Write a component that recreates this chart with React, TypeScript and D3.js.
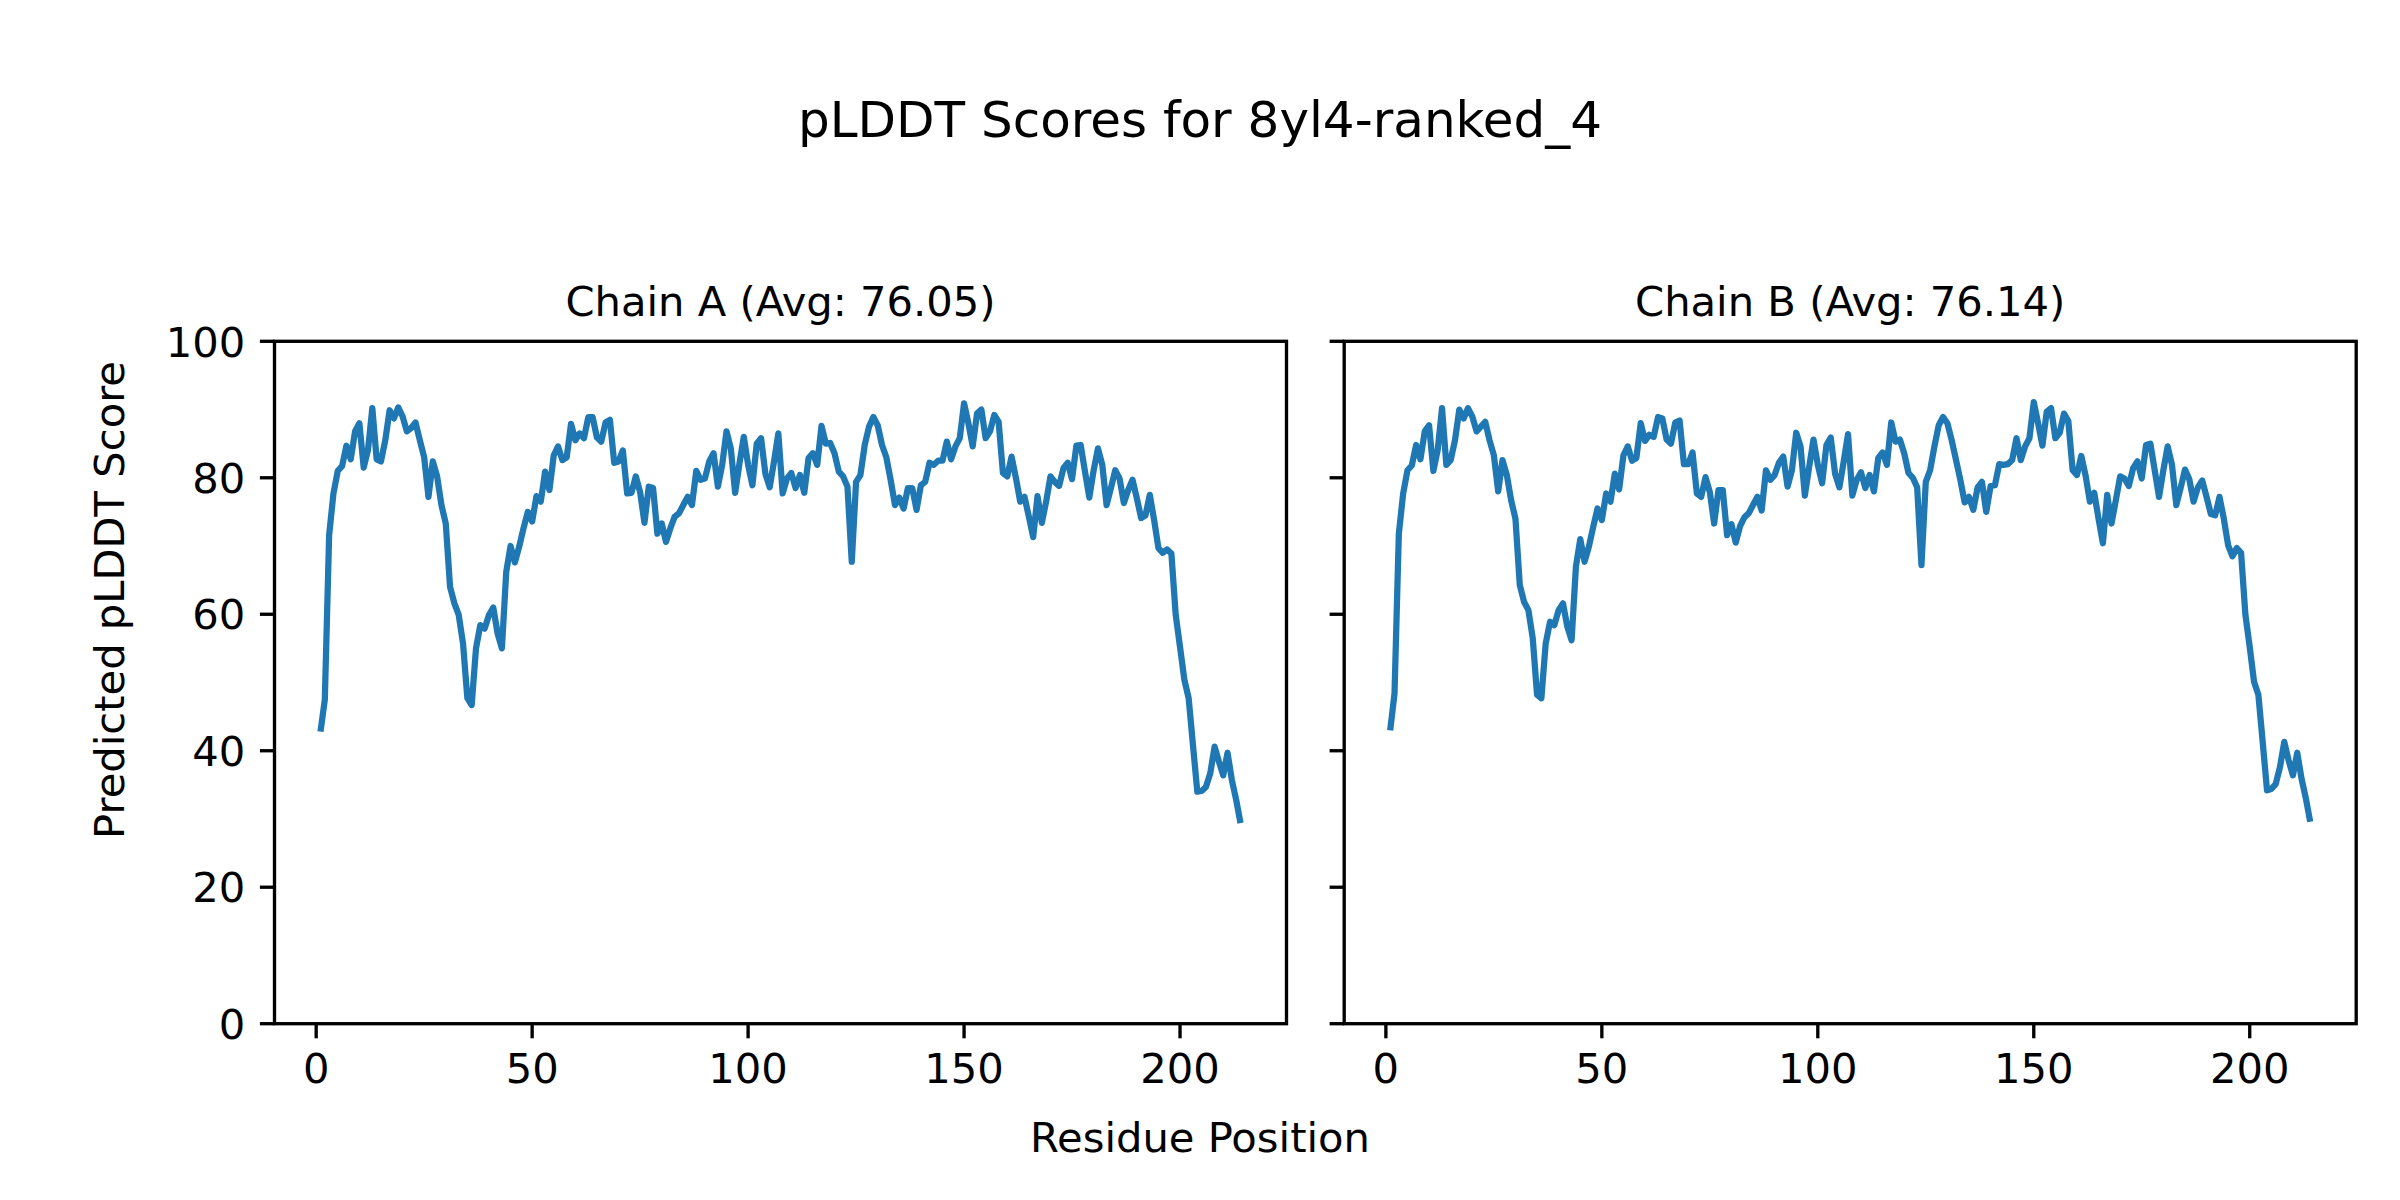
import React, { useEffect } from "react";
import * as d3 from "d3";

const chainA: number[] = [
  42.8, 47.5, 71.6, 77.7, 81.0, 81.7, 84.7, 82.7, 86.8, 88.0,
  81.5, 84.1, 90.2, 82.7, 82.4, 85.5, 89.9, 88.7, 90.3, 89.0,
  86.8, 87.3, 88.1, 85.5, 83.0, 77.2, 82.4, 80.2, 76.0, 73.3,
  64.0, 61.6, 59.9, 55.7, 47.7, 46.7, 55.0, 58.4, 57.9, 59.9,
  61.0, 57.2, 55.0, 66.2, 70.0, 67.6, 69.9, 72.6, 75.0, 73.6,
  77.3, 76.5, 80.9, 78.2, 83.3, 84.6, 82.6, 83.0, 87.9, 85.5,
  86.5, 85.8, 88.9, 88.9, 85.9, 85.3, 88.1, 88.5, 82.2, 82.4,
  84.0, 77.7, 77.8, 80.2, 77.9, 73.4, 78.7, 78.5, 71.8, 73.3,
  70.6, 72.6, 74.3, 74.8, 76.0, 77.2, 76.0, 81.0, 79.7, 79.9,
  82.4, 83.6, 78.7, 81.9, 86.8, 84.3, 77.8, 82.1, 86.0, 81.9,
  78.9, 85.0, 85.8, 80.6, 78.6, 82.4, 86.5, 77.7, 79.9, 80.7,
  78.5, 80.4, 77.8, 82.9, 83.6, 81.9, 87.6, 85.0, 85.1, 83.6,
  80.9, 80.2, 78.7, 67.7, 79.4, 80.4, 84.8, 87.5, 88.9, 87.7,
  84.8, 83.0, 79.7, 76.0, 77.1, 75.5, 78.5, 78.5, 75.3, 78.9,
  79.4, 82.2, 81.9, 82.5, 82.5, 85.3, 82.7, 84.6, 85.8, 90.9,
  88.0, 84.6, 89.4, 90.0, 85.8, 86.8, 89.2, 88.2, 80.7, 80.2,
  83.1, 80.0, 76.5, 77.2, 74.3, 71.3, 77.3, 73.4, 76.5, 80.2,
  79.4, 78.8, 81.4, 82.2, 79.8, 84.7, 84.8, 80.9, 77.1, 81.1,
  84.3, 81.9, 76.0, 78.5, 81.1, 79.9, 76.3, 78.2, 79.7, 77.0,
  74.1, 74.5, 77.5, 73.8, 69.7, 69.0, 69.5, 68.9, 59.9, 55.2,
  50.4, 47.7, 40.8, 34.0, 34.1, 34.7, 36.7, 40.6, 38.4, 36.4,
  39.7, 35.7, 32.8, 29.4,
];

const chainB: number[] = [
  43.0, 48.4, 71.8, 77.7, 81.1, 81.8, 84.8, 82.7, 86.8, 87.7,
  81.0, 84.1, 90.2, 81.9, 82.6, 85.5, 90.0, 88.7, 90.2, 89.0,
  86.8, 87.5, 88.2, 85.5, 83.3, 78.0, 82.6, 80.4, 76.7, 74.0,
  64.3, 61.8, 60.6, 56.5, 48.2, 47.7, 55.7, 58.9, 58.4, 60.6,
  61.6, 58.2, 56.2, 67.0, 71.0, 67.7, 69.9, 72.8, 75.5, 73.8,
  77.7, 76.5, 80.6, 78.3, 83.3, 84.6, 82.5, 82.9, 88.0, 85.4,
  86.3, 86.0, 88.9, 88.7, 85.6, 85.0, 88.1, 88.4, 82.0, 82.0,
  83.7, 77.7, 77.2, 80.1, 77.9, 73.3, 78.2, 78.2, 71.6, 73.2,
  70.5, 72.9, 74.2, 74.8, 76.0, 77.2, 75.2, 81.1, 79.7, 80.4,
  82.2, 83.1, 78.7, 81.1, 86.6, 84.6, 77.4, 81.6, 85.6, 81.9,
  79.2, 84.8, 85.9, 80.6, 78.6, 82.4, 86.4, 77.4, 79.7, 80.8,
  78.5, 80.4, 78.0, 82.9, 83.7, 81.9, 88.1, 85.3, 85.6, 83.6,
  80.7, 80.0, 78.6, 67.2, 79.4, 81.1, 84.6, 87.7, 88.9, 88.0,
  85.5, 82.6, 79.7, 76.4, 77.2, 75.3, 78.6, 79.4, 75.0, 78.8,
  78.9, 82.0, 81.9, 82.0, 82.6, 85.8, 82.6, 84.6, 85.8, 91.1,
  88.0, 84.7, 89.7, 90.2, 85.8, 86.6, 89.4, 88.3, 81.1, 80.4,
  83.2, 80.3, 76.5, 77.8, 74.0, 70.4, 77.5, 73.3, 76.7, 80.2,
  79.9, 78.8, 81.4, 82.4, 79.9, 84.8, 85.0, 81.1, 77.2, 81.1,
  84.6, 81.9, 76.0, 78.5, 81.2, 79.8, 76.5, 78.6, 79.6, 77.2,
  74.7, 74.5, 77.2, 74.0, 70.1, 68.5, 69.7, 69.0, 59.9, 55.2,
  50.1, 48.2, 41.3, 34.2, 34.4, 35.1, 37.6, 41.3, 38.6, 36.4,
  39.7, 35.9, 33.0, 29.6,
];

const panelTitles: string[] = ["Chain A (Avg: 76.05)", "Chain B (Avg: 76.14)"];
const xTicks: number[] = [0, 50, 100, 150, 200];
const yTicks: number[] = [0, 20, 40, 60, 80, 100];
const figTitle = "pLDDT Scores for 8yl4-ranked_4";
const xLabel = "Residue Position";
const yLabel = "Predicted pLDDT Score";

const W = 2400;
const H = 1200;
const FONT = "'DejaVu Sans', sans-serif";
const FS = 41.67;
const TOP = 341.3;
const BOTTOM = 1023.7;
const panels = [
  { left: 274.5, right: 1286.5, data: chainA, title: panelTitles[0], showYLabels: true },
  { left: 1344.2, right: 2356.2, data: chainB, title: panelTitles[1], showYLabels: false },
];

function Panel({ p }: { p: typeof panels[number] }) {
  const n = p.data.length;
  const pad = (n - 1) * 0.05;
  const x = d3.scaleLinear().domain([1 - pad, n + pad]).range([p.left, p.right]);
  const y = d3.scaleLinear().domain([0, 100]).range([BOTTOM, TOP]);
  const line = d3
    .line<number>()
    .x((_, i) => x(i + 1))
    .y((d) => y(d));
  const tickLen = 14.6;
  const sw = 3.33;
  return (
    <g>
      <path d={line(p.data) || ""} fill="none" stroke="#1f77b4" strokeWidth={6.25} strokeLinejoin="round" strokeLinecap="butt" />
      <rect x={p.left} y={TOP} width={p.right - p.left} height={BOTTOM - TOP} fill="none" stroke="#000" strokeWidth={sw} />
      {xTicks.map((t) => (
        <g key={"x" + t}>
          <line x1={x(t)} x2={x(t)} y1={BOTTOM} y2={BOTTOM + tickLen} stroke="#000" strokeWidth={sw} />
          <text x={x(t)} y={BOTTOM + tickLen + 14.6 + 30.4} textAnchor="middle" fontSize={FS} fontFamily={FONT} fill="#000">
            {t}
          </text>
        </g>
      ))}
      {yTicks.map((t) => (
        <g key={"y" + t}>
          <line x1={p.left - tickLen} x2={p.left} y1={y(t)} y2={y(t)} stroke="#000" strokeWidth={sw} />
          {p.showYLabels && (
            <text x={p.left - tickLen - 14.6} y={y(t) + 15.2} textAnchor="end" fontSize={FS} fontFamily={FONT} fill="#000">
              {t}
            </text>
          )}
        </g>
      ))}
      <text x={(p.left + p.right) / 2} y={TOP - 25} textAnchor="middle" fontSize={FS} fontFamily={FONT} fill="#000">
        {p.title}
      </text>
    </g>
  );
}

export default function App() {
  useEffect(() => {
    document.body.style.margin = "0";
  }, []);
  return (
    <svg width={W} height={H} viewBox={`0 0 ${W} ${H}`} style={{ display: "block", background: "#fff" }}>
      <rect x={0} y={0} width={W} height={H} fill="#fff" />
      <text x={W / 2} y={137} textAnchor="middle" fontSize={50} fontFamily={FONT} fill="#000">
        {figTitle}
      </text>
      {panels.map((p, i) => (
        <Panel key={i} p={p} />
      ))}
      <text x={W / 2} y={1152} textAnchor="middle" fontSize={FS} fontFamily={FONT} fill="#000">
        {xLabel}
      </text>
      <text
        transform={`translate(124, ${H / 2}) rotate(-90)`}
        textAnchor="middle"
        fontSize={FS}
        fontFamily={FONT}
        fill="#000"
      >
        {yLabel}
      </text>
    </svg>
  );
}
